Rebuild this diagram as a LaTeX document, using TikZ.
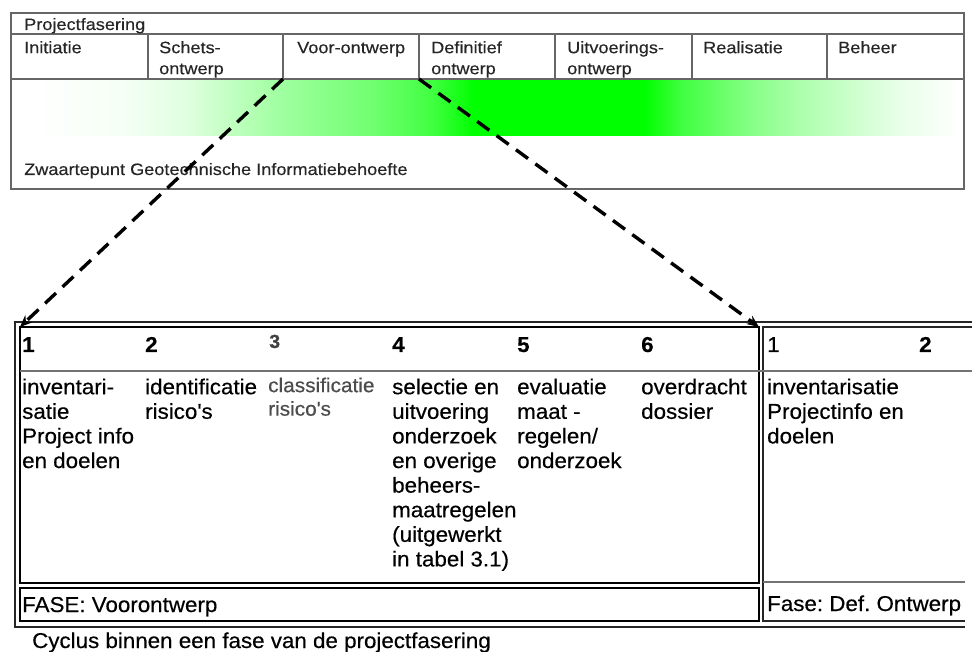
\documentclass[tikz,border=0pt]{standalone}
\usepackage{fontspec}
\setmainfont{Liberation Sans}
\newfontfamily\topf[FakeStretch=1.1,FakeBold=0.3]{Liberation Sans}
\newfontfamily\bodyf[FakeStretch=1.04,FakeBold=0.4]{Liberation Sans}
\usetikzlibrary{arrows.meta}
\frenchspacing
\pgfdeclarehorizontalshading{greenband}{100bp}{color(0bp)=(white); color(25bp)=(white); color(30bp)=(green!4!white); color(33.3bp)=(green!12!white); color(38.35bp)=(green!37!white); color(43.35bp)=(green!56!white); color(46.64bp)=(green!75!white); color(48.84bp)=(green); color(58bp)=(green); color(59.98bp)=(green!75!white); color(63.32bp)=(green!50!white); color(66.66bp)=(green!31!white); color(71.66bp)=(green!9!white); color(75bp)=(white); color(100bp)=(white)}
\tikzset{
  topline/.style={draw=black!60, line width=1.3pt},
  cellbox/.style={draw=none, anchor=north west, inner sep=0pt, outer sep=0pt, minimum height=45pt},
  toptext/.style={anchor=base west, inner sep=0pt, text=black!85, font=\topf\frenchspacing\fontsize{16.5}{21}\selectfont},
  phasetext/.style={anchor=north west, inner sep=0pt, align=left, text=black!85, font=\topf\fontsize{16.5}{21}\selectfont},
  frame/.style={draw=black!85, line width=1.8pt},
  boxc/.style={draw=black, line width=2pt, anchor=north west, inner sep=0pt, outer sep=0pt},
  sepline/.style={draw=black!55, line width=1.2pt},
  num/.style={anchor=base west, inner sep=0pt, text=black, font=\bodyf\fontsize{21.5}{24}\selectfont\bfseries},
  body/.style={anchor=north west, inner sep=0pt, align=left, text=black, font=\bodyf\fontsize{21.5}{24.6}\selectfont},
  bodygray/.style={anchor=north west, inner sep=0pt, align=left, text=black!70, font=\bodyf\fontsize{20}{23.5}\selectfont},
  fasetext/.style={anchor=base west, inner sep=0pt, text=black, font=\bodyf\frenchspacing\fontsize{21.5}{24}\selectfont},
  dasharrow/.style={draw=black, line width=3.4pt, dash pattern=on 15pt off 9pt, -{Stealth[length=12pt,width=10pt]}}
}
\begin{document}
\begin{tikzpicture}[x=1pt,y=-1pt]
\useasboundingbox (0,0) rectangle (972,652);
\fill[white] (0,0) rectangle (972,652);

% gradient band
\shade[shading=greenband] (31,80) rectangle (960,136);

% top table
\draw[topline] (11,13) rectangle (964,189);
\draw[topline] (11,34) -- (964,34);
\draw[topline] (11,79) -- (964,79);
\foreach \xx in {148,283,419,555,692,827} \draw[topline] (\xx,34) -- (\xx,79);
\node[cellbox, minimum width=136pt] (voor) at (283,34) {};

\node[toptext] (tPF) at (24,30) {Projectfasering};
\node[phasetext] (tInit) at (24,38.3) {\strut Initiatie};
\node[phasetext] (tSchets) at (159,38.3) {\strut Schets-\\ontwerp};
\node[phasetext] (tVoor) at (297,38.3) {\strut Voor-ontwerp};
\node[phasetext] (tDef) at (431,38.3) {\strut Definitief\\ontwerp};
\node[phasetext] (tUitv) at (567,38.3) {\strut Uitvoerings-\\ontwerp};
\node[phasetext] (tReal) at (703,38.3) {\strut Realisatie};
\node[phasetext] (tBeh) at (838,38.3) {\strut Beheer};
\node[toptext] (tZw) at (24,175) {Zwaartepunt Geotechnische Informatiebehoefte};

% lower table
\draw[frame] (972,322) -- (15,322) -- (15,627) -- (965,627);
\draw[frame] (972,327) -- (763,327) -- (763,621) -- (965,621);
\node[boxc, minimum width=739pt, minimum height=256pt] (cycle) at (20,327) {};
\node[boxc, minimum width=739pt, minimum height=33pt] (fase) at (20,588) {};
\draw[sepline] (20,371) -- (972,371);
\draw[sepline] (763,582) -- (965,582);

\node[num] (n1) at (22,352) {1};
\node[num] (n2) at (145,352) {2};
\node[num, text=black!75, font=\bodyf\fontsize{19}{22}\selectfont\bfseries] (n3) at (269,348) {3};
\node[num] (n4) at (392,352) {4};
\node[num] (n5) at (517,352) {5};
\node[num] (n6) at (641,352) {6};
\node[num, font=\bodyf\fontsize{21.5}{24}\selectfont] (m1) at (767,352) {1};
\node[num] (m2) at (919,352) {2};

\node[body] (c1) at (22,376.8) {\strut inventari-\\satie\\Project info\\en doelen};
\node[body] (c2) at (145,376.8) {\strut identificatie\\risico\textquotesingle s};
\node[bodygray] (c3) at (268,375.5) {\strut classificatie\\risico\textquotesingle s};
\node[body] (c4) at (392,376.8) {\strut selectie en\\uitvoering\\onderzoek\\en overige\\beheers-\\maatregelen\\(uitgewerkt\\in tabel 3.1)};
\node[body] (c5) at (517,376.8) {\strut evaluatie\\maat -\\regelen/\\onderzoek};
\node[body] (c6) at (641,376.8) {\strut overdracht\\dossier};
\node[body] (c7) at (767,376.8) {\strut inventarisatie\\Projectinfo en\\doelen};

\node[fasetext] (f1) at (22,612) {FASE: Voorontwerp};
\node[fasetext] (f2) at (767,611) {Fase: Def. Ontwerp};
\node[fasetext] (cap) at (32,648) {Cyclus binnen een fase van de projectfasering};

% connectors
\draw[dasharrow] (voor.south west) -- (cycle.north west);
\draw[dasharrow] (voor.south east) -- (cycle.north east);
\end{tikzpicture}
\end{document}
